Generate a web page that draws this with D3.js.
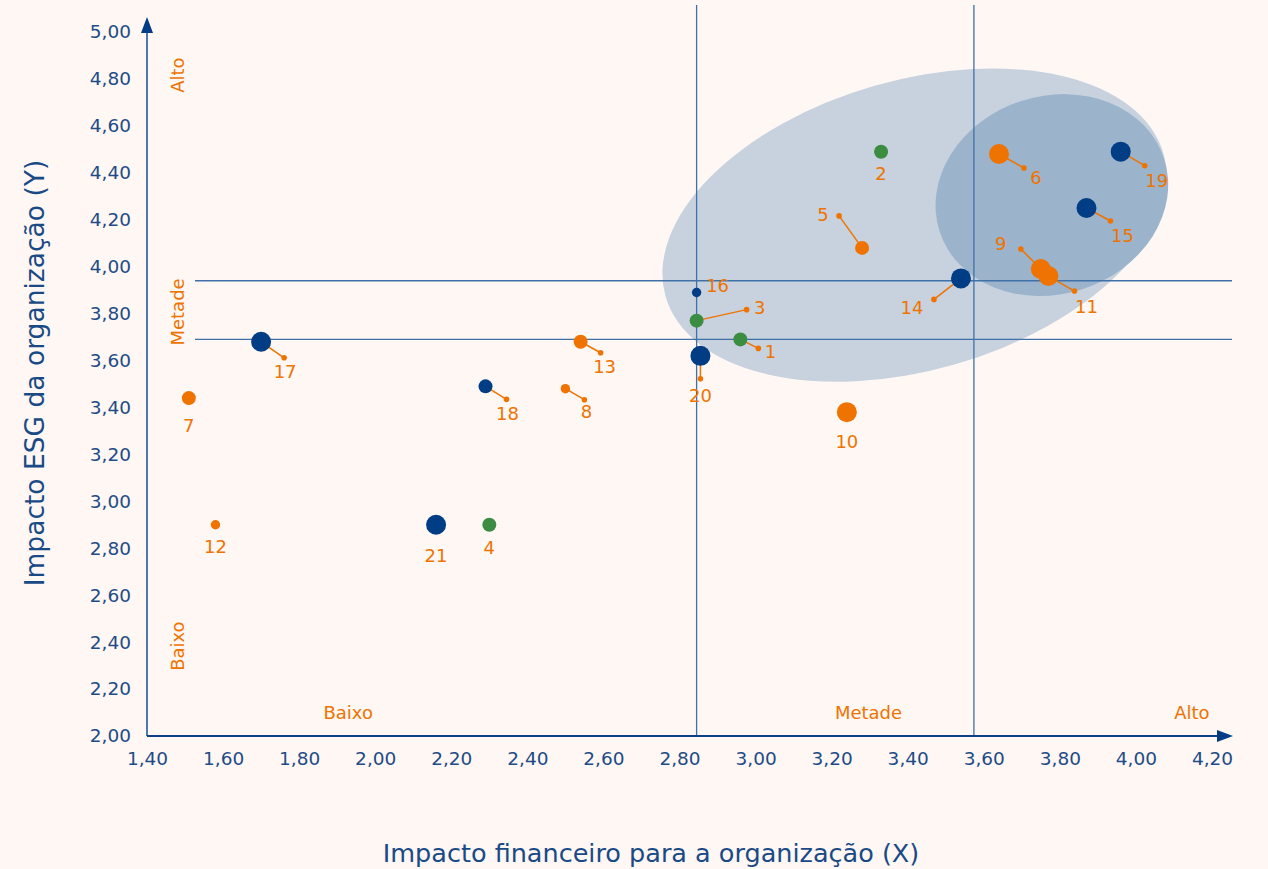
<!DOCTYPE html>
<html>
<head>
<meta charset="utf-8">
<script src="https://cdn.jsdelivr.net/npm/d3@7"></script>
<style>
  html, body { margin: 0; padding: 0; background: #fef7f4; }
  svg { display: block; font-family: "DejaVu Sans", Verdana, sans-serif; }
</style>
</head>
<body>
<svg id="chart" width="1268" height="869"></svg>
<script>
// Materiality matrix: financial impact (X) vs ESG impact (Y)
const topicIds   = [1, 2, 3, 4, 5, 6, 7, 8, 9, 10, 11, 12, 13, 14, 15, 16, 17, 18, 19, 20, 21];
const financial  = [2.96, 3.33, 2.845, 2.30, 3.28, 3.64, 1.51, 2.50, 3.75, 3.24, 3.77, 1.58, 2.54, 3.54, 3.87, 2.845, 1.70, 2.29, 3.96, 2.855, 2.16];
const esg        = [3.69, 4.49, 3.77, 2.90, 4.08, 4.48, 3.44, 3.48, 3.99, 3.38, 3.96, 2.90, 3.68, 3.95, 4.25, 3.89, 3.68, 3.49, 4.49, 3.62, 2.90];
const groups     = ["ambiental", "ambiental", "ambiental", "ambiental", "social", "social", "social", "social", "social", "social", "social", "social", "social",
                    "governança", "governança", "governança", "governança", "governança", "governança", "governança", "governança"];
const relevance  = [2, 2, 2, 2, 2, 3, 2, 1, 3, 3, 3, 1, 2, 3, 3, 1, 3, 2, 3, 3, 3];

const xTicks = [1.4, 1.6, 1.8, 2.0, 2.2, 2.4, 2.6, 2.8, 3.0, 3.2, 3.4, 3.6, 3.8, 4.0, 4.2];
const yTicks = [2.0, 2.2, 2.4, 2.6, 2.8, 3.0, 3.2, 3.4, 3.6, 3.8, 4.0, 4.2, 4.4, 4.6, 4.8, 5.0];

const xThresholds = [2.845, 3.574];
const yThresholds = [3.69, 3.94];
const levelLabels = ["Baixo", "Metade", "Alto"];

// Label placement (pixel offsets from each point): leader end, then label centre
const labelLayout = {
  1: [18, 9, 30, 12], 2: [0, 0, 0, 22], 3: [50, -11, 63, -13], 4: [0, 0, 0, 23],
  5: [-23, -32, -39, -33], 6: [25, 14, 37, 23], 7: [0, 0, 0, 27], 8: [19, 11, 21, 23],
  9: [-20, -20, -40, -26], 10: [0, 0, 0, 29], 11: [26, 15, 38, 30], 12: [0, 0, 0, 22],
  13: [20, 11, 24, 25], 14: [-27, 21, -49, 29], 15: [24, 13, 36, 27], 16: [0, 0, 21, -7],
  17: [23, 16, 24, 30], 18: [21, 13, 22, 27], 19: [24, 14, 36, 29], 20: [0, 23, 0, 40],
  21: [0, 0, 0, 31]
};

const colors = { ambiental: "#3a8d41", social: "#ef7300", "governança": "#003d85" };
const radius = d3.scaleOrdinal().domain([1, 2, 3]).range([4.7, 7, 10]);

const svg = d3.select("#chart");
const W = 1268, H = 869;
svg.append("rect").attr("width", W).attr("height", H).attr("fill", "#fef7f4");

const x = d3.scaleLinear().domain([1.4, 4.2]).range([147, 1212]);
const y = d3.scaleLinear().domain([2.0, 5.0]).range([736, 32]);

const points = topicIds.map((id, i) => ({
  id, x: financial[i], y: esg[i], group: groups[i], rel: relevance[i]
}));

// Priority zones (ellipses drawn in pixel space around data-space centres)
const zones = [
  { cx: 3.418, cy: 4.177, rx: 259, ry: 145, angle: -16, fill: "#c7d2de" },
  { cx: 3.779, cy: 4.305, rx: 118, ry: 99, angle: -18, fill: "#9bb4cc" }
];
svg.append("g").selectAll("ellipse").data(zones).join("ellipse")
  .attr("cx", 0).attr("cy", 0)
  .attr("rx", d => d.rx).attr("ry", d => d.ry)
  .attr("transform", d => `translate(${x(d.cx)},${y(d.cy)}) rotate(${d.angle})`)
  .attr("fill", d => d.fill);

// Threshold lines
const lineColor = "#3f71a8";
svg.append("g").selectAll("line").data(xThresholds).join("line")
  .attr("x1", d => x(d)).attr("x2", d => x(d))
  .attr("y1", 5).attr("y2", y(2.0))
  .attr("stroke", lineColor).attr("stroke-width", 1.3);
svg.append("g").selectAll("line").data(yThresholds).join("line")
  .attr("x1", 195).attr("x2", 1232)
  .attr("y1", d => y(d)).attr("y2", d => y(d))
  .attr("stroke", lineColor).attr("stroke-width", 1.3);

// Axes
const fmt = d => d3.format(".2f")(d).replace(".", ",");
const xAxis = svg.append("g").attr("transform", `translate(0,${y(2.0)})`)
  .call(d3.axisBottom(x).tickValues(xTicks).tickFormat(fmt).tickSize(0).tickPadding(16));
const yAxis = svg.append("g").attr("transform", `translate(${x(1.4)},0)`)
  .call(d3.axisLeft(y).tickValues(yTicks).tickFormat(fmt).tickSize(0).tickPadding(16));
[xAxis, yAxis].forEach(g => {
  g.select(".domain").remove();
  g.selectAll("text").attr("fill", "#1f4b86").attr("font-size", 18.5)
    .attr("font-family", "DejaVu Sans, Verdana, sans-serif");
});

svg.append("line").attr("x1", x(1.4)).attr("x2", x(1.4)).attr("y1", y(2.0)).attr("y2", 30)
  .attr("stroke", "#4f78ad").attr("stroke-width", 2);
svg.append("path").attr("d", `M${x(1.4)},17 L${x(1.4) - 6},33 L${x(1.4) + 6},33 Z`).attr("fill", "#003d85");
svg.append("line").attr("x1", x(1.4)).attr("x2", 1220).attr("y1", y(2.0)).attr("y2", y(2.0))
  .attr("stroke", "#0b3f86").attr("stroke-width", 2.2);
svg.append("path").attr("d", `M1233,${y(2.0)} L1217,${y(2.0) - 6} L1217,${y(2.0) + 6} Z`).attr("fill", "#003d85");

// Axis titles
svg.append("text").attr("x", 651).attr("y", 862).attr("text-anchor", "middle")
  .attr("fill", "#1a4a86").attr("font-size", 25.5).text("Impacto financeiro para a organização (X)");
svg.append("text").attr("transform", `translate(44,${373}) rotate(-90)`).attr("text-anchor", "middle")
  .attr("fill", "#1a4a86").attr("font-size", 26.5).text("Impacto ESG da organização (Y)");

// Level labels
const orange = "#ef7300";
const bottomPos = [1.929, 3.297, 4.147];
svg.append("g").selectAll("text").data(levelLabels).join("text")
  .attr("x", (d, i) => x(bottomPos[i])).attr("y", 719).attr("text-anchor", "middle")
  .attr("fill", orange).attr("font-size", 18).text(d => d);
const leftPos = [2.383, 3.807, 4.816];
svg.append("g").selectAll("text").data(levelLabels).join("text")
  .attr("transform", (d, i) => `translate(184,${y(leftPos[i])}) rotate(-90)`).attr("text-anchor", "middle")
  .attr("fill", orange).attr("font-size", 18).text(d => d);

// Leader lines and end dots
const lead = points.filter(p => labelLayout[p.id][0] !== 0 || labelLayout[p.id][1] !== 0);
svg.append("g").selectAll("line").data(lead).join("line")
  .attr("x1", p => x(p.x)).attr("y1", p => y(p.y))
  .attr("x2", p => x(p.x) + labelLayout[p.id][0]).attr("y2", p => y(p.y) + labelLayout[p.id][1])
  .attr("stroke", orange).attr("stroke-width", 1.5);
svg.append("g").selectAll("circle").data(lead).join("circle")
  .attr("cx", p => x(p.x) + labelLayout[p.id][0]).attr("cy", p => y(p.y) + labelLayout[p.id][1])
  .attr("r", 2.8).attr("fill", orange);

// Points
svg.append("g").selectAll("circle").data(points).join("circle")
  .attr("cx", p => x(p.x)).attr("cy", p => y(p.y))
  .attr("r", p => radius(p.rel)).attr("fill", p => colors[p.group]);

// Topic numbers
svg.append("g").selectAll("text").data(points).join("text")
  .attr("x", p => x(p.x) + labelLayout[p.id][2]).attr("y", p => y(p.y) + labelLayout[p.id][3])
  .attr("text-anchor", "middle").attr("dominant-baseline", "central")
  .attr("fill", orange).attr("font-size", 18).text(p => p.id);
</script>
</body>
</html>
